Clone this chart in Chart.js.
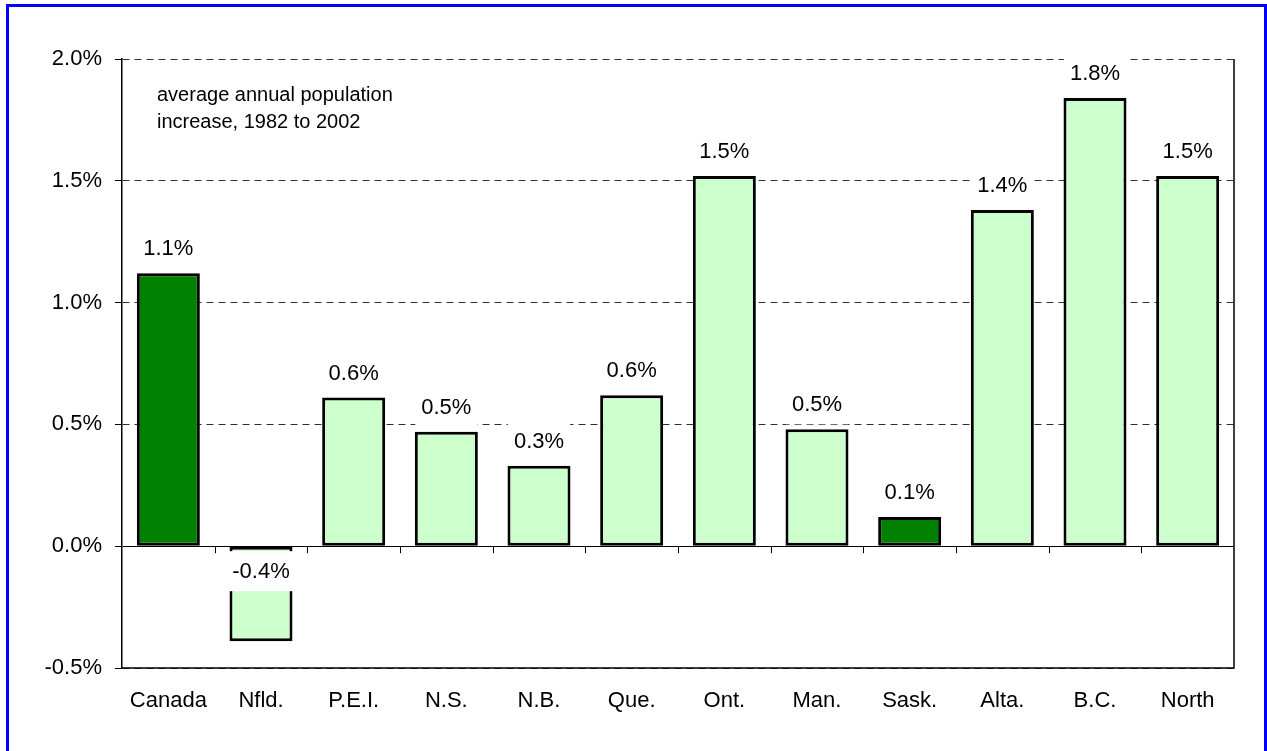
<!DOCTYPE html>
<html>
<head>
<meta charset="utf-8">
<script src="https://cdn.jsdelivr.net/npm/chart.js@4.4.1/dist/chart.umd.min.js"></script>
<style>
  html, body { margin: 0; padding: 0; background: #fff; overflow: hidden; }
  #wrap { position: relative; width: 1267px; height: 751px; }
  #chart { position: absolute; left: 0; top: 0; }
  #frame {
    position: absolute; left: 6px; top: 4px; width: 1261px; height: 800px;
    box-sizing: border-box; border: 3px solid #0000ff; border-bottom: none;
    pointer-events: none;
  }
</style>
</head>
<body>
<div id="wrap">
  <canvas id="chart" width="1267" height="751"></canvas>
  <div id="frame"></div>
</div>
<script>
// average annual population increase, 1982 to 2002 (%)
const regions = ['Canada', 'Nfld.', 'P.E.I.', 'N.S.', 'N.B.', 'Que.', 'Ont.', 'Man.', 'Sask.', 'Alta.', 'B.C.', 'North'];
const growth = [1.12, -0.39, 0.61, 0.47, 0.33, 0.62, 1.52, 0.48, 0.12, 1.38, 1.84, 1.52];
const highlighted = ['Canada', 'Sask.'];
const yTicks = [-0.5, 0, 0.5, 1.0, 1.5, 2.0];
const noteLines = ['average annual population', 'increase, 1982 to 2002'];

const FONT = '"Liberation Sans", Arial, sans-serif';
const DARK = '#008000';
const LIGHT = '#ccffcc';

const barColors = regions.map(r => highlighted.includes(r) ? DARK : LIGHT);

// value labels with white boxes, like the Excel original
const valueLabels = {
  id: 'valueLabels',
  afterDatasetsDraw(chart) {
    const ctx = chart.ctx;
    const meta = chart.getDatasetMeta(0);
    const y0 = chart.scales.y.getPixelForValue(0);
    ctx.save();
    ctx.font = '22px ' + FONT;
    ctx.textAlign = 'center';
    ctx.textBaseline = 'middle';
    meta.data.forEach((bar, i) => {
      const v = growth[i];
      const text = v.toFixed(1) + '%';
      const cy = v >= 0 ? bar.y - 25 : y0 + 25;
      const w = ctx.measureText(text).width + 12;
      ctx.fillStyle = '#fff';
      ctx.fillRect(bar.x - w / 2, cy - 20, w, 40);
      ctx.fillStyle = '#000';
      ctx.fillText(text, bar.x, cy + 1);
    });
    ctx.restore();
  }
};

// right/bottom frame, category ticks on the zero line, and the note
const extras = {
  id: 'extras',
  afterDraw(chart) {
    const ctx = chart.ctx;
    const area = chart.chartArea;
    const x = chart.scales.x;
    const y0 = chart.scales.y.getPixelForValue(0);
    ctx.save();
    ctx.strokeStyle = '#000';
    ctx.lineWidth = 1.5;
    ctx.beginPath();
    ctx.moveTo(area.right, area.top);
    ctx.lineTo(area.right, area.bottom);
    ctx.lineTo(area.left, area.bottom);
    ctx.stroke();

    ctx.lineWidth = 1;
    ctx.beginPath();
    for (let i = 1; i < regions.length; i++) {
      const px = Math.round(x.getPixelForValue(i - 0.5)) + 0.5;
      ctx.moveTo(px, y0);
      ctx.lineTo(px, y0 + 7);
    }
    ctx.stroke();

    ctx.fillStyle = '#000';
    ctx.font = '20px ' + FONT;
    ctx.textAlign = 'left';
    ctx.textBaseline = 'middle';
    noteLines.forEach((line, i) => {
      ctx.fillText(line, area.left + 35, area.top + 36 + i * 27);
    });
    ctx.restore();
  }
};

new Chart(document.getElementById('chart'), {
  type: 'bar',
  data: {
    labels: regions,
    datasets: [{
      data: growth,
      backgroundColor: barColors,
      borderColor: '#000',
      borderWidth: 3,
      borderSkipped: false,
      barPercentage: 0.68,
      categoryPercentage: 1.0
    }]
  },
  options: {
    responsive: false,
    animation: false,
    devicePixelRatio: 1,
    layout: { padding: { top: 59, right: 33, left: 0, bottom: 0 } },
    plugins: {
      legend: { display: false },
      tooltip: { enabled: false }
    },
    scales: {
      x: {
        grid: { display: false, drawTicks: false },
        border: { display: false },
        ticks: { color: '#000', font: { family: FONT, size: 22 }, padding: 20, maxRotation: 0 },
        afterFit(scale) { scale.height = 83; }
      },
      y: {
        min: -0.5,
        max: 2.0,
        afterBuildTicks(scale) { scale.ticks = yTicks.map(v => ({ value: v })); },
        ticks: {
          color: '#000',
          font: { family: FONT, size: 22 },
          padding: 13,
          callback: v => Number(v).toFixed(1) + '%'
        },
        grid: {
          color: c => c.tick && c.tick.value === 0 ? '#000' : '#333',
          lineWidth: 1,
          tickLength: 7,
          tickColor: '#000'
        },
        border: {
          display: true,
          color: '#000',
          width: 1.5,
          dash: c => c.tick && c.tick.value === 0 ? [] : [7, 5]
        },
        afterFit(scale) { scale.width = 122; }
      }
    }
  },
  plugins: [valueLabels, extras]
});
</script>
</body>
</html>
